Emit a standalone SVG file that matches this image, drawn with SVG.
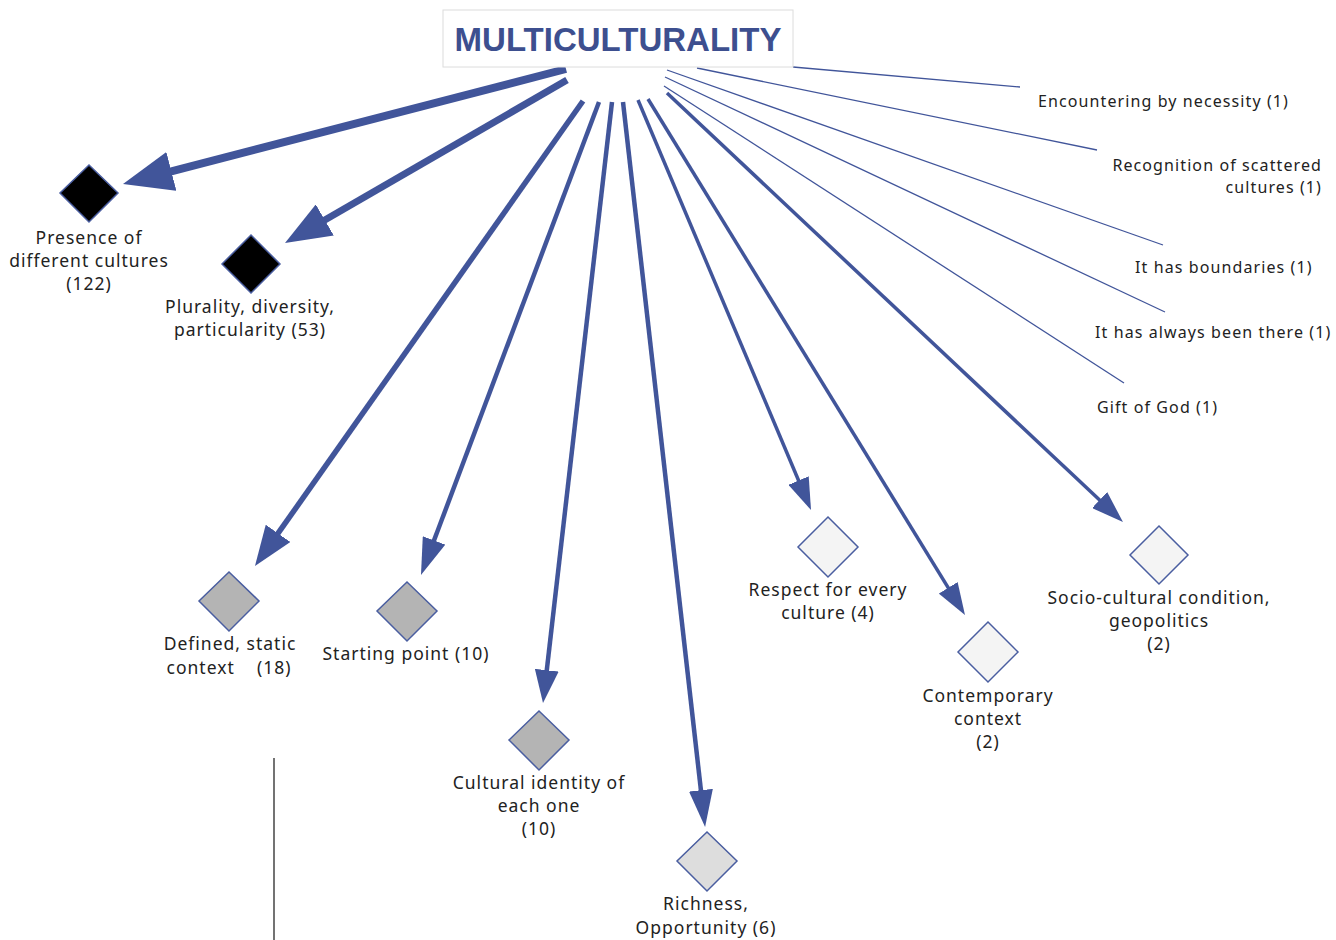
<svg xmlns="http://www.w3.org/2000/svg" width="1336" height="940" viewBox="0 0 1336 940">
  <style>
    .lbl { font-family: "Noto Sans", "Open Sans", sans-serif; font-size: 17.5px; letter-spacing: 1px; fill: #222; text-anchor: middle; }
    .rlbl { font-family: "Noto Sans", "Open Sans", sans-serif; font-size: 16px; letter-spacing: 1.1px; fill: #222; }
    .edge { stroke: #41559a; fill: none; stroke-linecap: butt; }
    .thin { stroke: #41559a; stroke-width: 1.3; fill: none; }
    .dia { stroke: #4a5ea0; stroke-width: 1.5; }
    .black { fill: #000; }
    .gray { fill: #b4b4b4; }
    .light { fill: #dddddd; }
    .pale { fill: #f4f4f4; }
  </style>
  <defs>
    <marker id="h50" markerUnits="userSpaceOnUse" viewBox="0 0 50 40" markerWidth="50" markerHeight="40" refX="25" refY="20" orient="auto">
      <path d="M0,0 L50,20 L0,40 z" fill="#41559a"/>
    </marker>
    <marker id="h46" markerUnits="userSpaceOnUse" viewBox="0 0 46 36" markerWidth="46" markerHeight="36" refX="23" refY="18" orient="auto">
      <path d="M0,0 L46,18 L0,36 z" fill="#41559a"/>
    </marker>
    <marker id="h40" markerUnits="userSpaceOnUse" viewBox="0 0 40 30" markerWidth="40" markerHeight="30" refX="20" refY="15" orient="auto">
      <path d="M0,0 L40,15 L0,30 z" fill="#41559a"/>
    </marker>
    <marker id="h37" markerUnits="userSpaceOnUse" viewBox="0 0 37 24" markerWidth="37" markerHeight="24" refX="18.5" refY="12" orient="auto">
      <path d="M0,0 L37,12 L0,24 z" fill="#41559a"/>
    </marker>
    <marker id="h33" markerUnits="userSpaceOnUse" viewBox="0 0 33 24" markerWidth="33" markerHeight="24" refX="16.5" refY="12" orient="auto">
      <path d="M0,0 L33,12 L0,24 z" fill="#41559a"/>
    </marker>
    <marker id="h32" markerUnits="userSpaceOnUse" viewBox="0 0 32 22" markerWidth="32" markerHeight="22" refX="16" refY="11" orient="auto">
      <path d="M0,0 L32,11 L0,22 z" fill="#41559a"/>
    </marker>
  </defs>

  <rect width="1336" height="940" fill="#fff"/>

  <!-- connectors -->
  <g id="connectors">
    <line class="edge" x1="566" y1="69" x2="147.2" y2="177.7" stroke-width="8" marker-end="url(#h50)"/>
    <line class="edge" x1="567" y1="80" x2="304.9" y2="231.5" stroke-width="7" marker-end="url(#h46)"/>
    <line class="edge" x1="583" y1="101" x2="266.5" y2="549.7" stroke-width="5.5" marker-end="url(#h40)"/>
    <line class="edge" x1="599" y1="102" x2="427.5" y2="557.7" stroke-width="4.5" marker-end="url(#h37)"/>
    <line class="edge" x1="612" y1="102" x2="544.9" y2="686.6" stroke-width="4.5" marker-end="url(#h33)"/>
    <line class="edge" x1="623" y1="102" x2="703.0" y2="808.6" stroke-width="4.5" marker-end="url(#h37)"/>
    <line class="edge" x1="638" y1="100" x2="804.8" y2="495.3" stroke-width="3.5" marker-end="url(#h32)"/>
    <line class="edge" x1="648" y1="99" x2="956.6" y2="601.4" stroke-width="3.5" marker-end="url(#h32)"/>
    <line class="edge" x1="667" y1="93" x2="1111.3" y2="511.0" stroke-width="3.5" marker-end="url(#h32)"/>
    <line class="thin" x1="793" y1="67" x2="1020" y2="87"/>
    <line class="thin" x1="697" y1="68" x2="1097" y2="150"/>
    <line class="thin" x1="667" y1="70" x2="1163" y2="245"/>
    <line class="thin" x1="665" y1="77" x2="1165" y2="312"/>
    <line class="thin" x1="664" y1="86" x2="1124" y2="383"/>
  </g>

  <!-- central node -->
  <g id="multiculturality">
    <rect x="443" y="10" width="350" height="57" fill="#fff" stroke="#dcdcdc" stroke-width="1"/>
    <text x="618" y="51" font-family="'Liberation Sans', Arial, sans-serif" font-weight="bold" font-size="33" fill="#3d4f8f" text-anchor="middle">MULTICULTURALITY</text>
  </g>

  <g id="presence">
    <polygon class="dia black" points="89,165 118,193 89,222 60,193"/>
    <text class="lbl" x="89" y="244">Presence of</text>
    <text class="lbl" x="89" y="267">different cultures</text>
    <text class="lbl" x="89" y="290">(122)</text>
  </g>

  <g id="plurality">
    <polygon class="dia black" points="251,235 280,264 251,293 222,264"/>
    <text class="lbl" x="250" y="313">Plurality, diversity,</text>
    <text class="lbl" x="250" y="336">particularity (53)</text>
  </g>

  <g id="defined">
    <polygon class="dia gray" points="229,572 259,601 229,631 199,601"/>
    <text class="lbl" x="230" y="650">Defined, static</text>
    <text class="lbl" x="229" y="674" xml:space="preserve">context    (18)</text>
  </g>

  <g id="starting">
    <polygon class="dia gray" points="407,582 437,611 407,641 377,611"/>
    <text class="lbl" x="406" y="660">Starting point (10)</text>
  </g>

  <g id="identity">
    <polygon class="dia gray" points="539,711 569,740 539,770 509,740"/>
    <text class="lbl" x="539" y="789">Cultural identity of</text>
    <text class="lbl" x="539" y="812">each one</text>
    <text class="lbl" x="539" y="835">(10)</text>
  </g>

  <g id="richness">
    <polygon class="dia light" points="707,832 737,861 707,891 677,861"/>
    <text class="lbl" x="706" y="910">Richness,</text>
    <text class="lbl" x="706" y="934">Opportunity (6)</text>
  </g>

  <g id="respect">
    <polygon class="dia pale" points="828,517 858,547 828,577 798,547"/>
    <text class="lbl" x="828" y="596">Respect for every</text>
    <text class="lbl" x="828" y="619">culture (4)</text>
  </g>

  <g id="contemporary">
    <polygon class="dia pale" points="988,622 1018,652 988,682 958,652"/>
    <text class="lbl" x="988" y="702">Contemporary</text>
    <text class="lbl" x="988" y="725">context</text>
    <text class="lbl" x="988" y="748">(2)</text>
  </g>

  <g id="sociocultural">
    <polygon class="dia pale" points="1159,526 1188,555 1159,584 1130,555"/>
    <text class="lbl" x="1159" y="604">Socio-cultural condition,</text>
    <text class="lbl" x="1159" y="627">geopolitics</text>
    <text class="lbl" x="1159" y="650">(2)</text>
  </g>

  <g id="encountering">
    <text class="rlbl" x="1038" y="107">Encountering by necessity (1)</text>
  </g>
  <g id="recognition">
    <text class="rlbl" x="1322" y="171" text-anchor="end">Recognition of scattered</text>
    <text class="rlbl" x="1322" y="193" text-anchor="end">cultures (1)</text>
  </g>
  <g id="boundaries">
    <text class="rlbl" x="1135" y="273">It has boundaries (1)</text>
  </g>
  <g id="always">
    <text class="rlbl" x="1095" y="338">It has always been there (1)</text>
  </g>
  <g id="gift">
    <text class="rlbl" x="1097" y="413">Gift of God (1)</text>
  </g>

  <!-- vertical rule -->
  <line x1="274" y1="758" x2="274" y2="940" stroke="#444" stroke-width="1.5"/>
</svg>
